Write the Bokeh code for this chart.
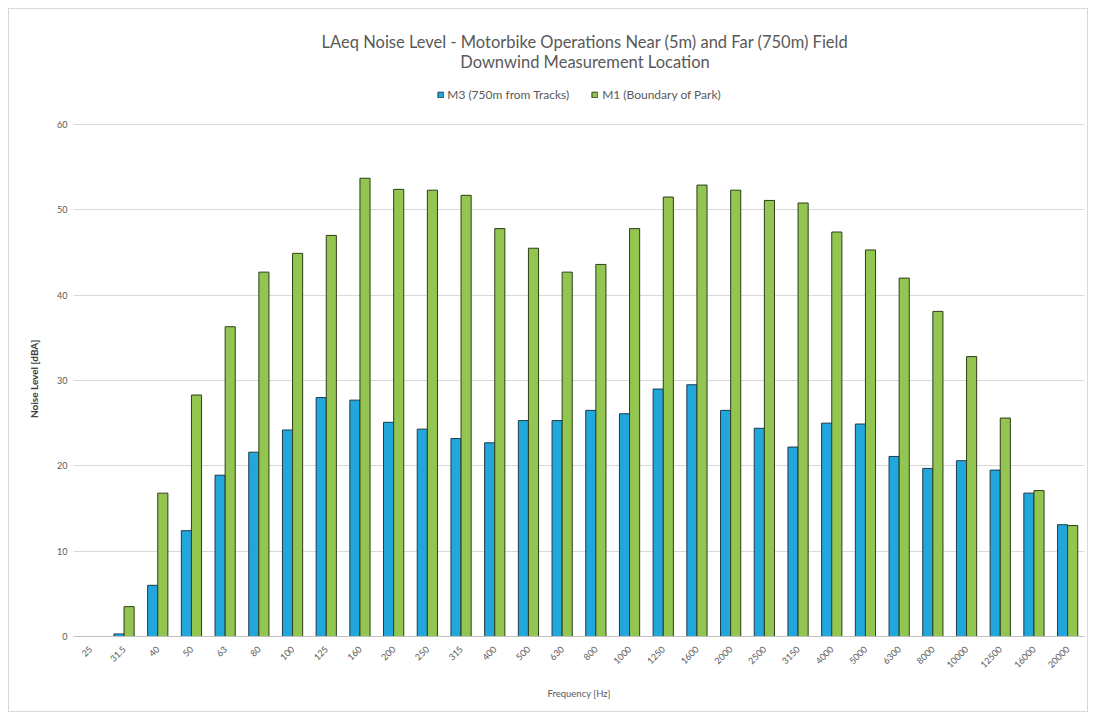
import math
from bokeh.plotting import figure
from bokeh.models import FactorRange, Legend, LegendItem, Label, ColumnDataSource, Range1d
from bokeh.transform import dodge
from bokeh.embed import file_html
from bokeh.resources import INLINE

freqs = ["25", "31.5", "40", "50", "63", "80", "100", "125", "160", "200", "250", "315",
         "400", "500", "630", "800", "1000", "1250", "1600", "2000", "2500", "3150",
         "4000", "5000", "6300", "8000", "10000", "12500", "16000", "20000"]
m3_far = [0.0, 0.3, 6.0, 12.4, 18.9, 21.6, 24.2, 28.0, 27.7, 25.1, 24.3, 23.2,
          22.7, 25.3, 25.3, 26.5, 26.1, 29.0, 29.5, 26.5, 24.4, 22.2,
          25.0, 24.9, 21.1, 19.7, 20.6, 19.5, 16.8, 13.1]
m1_near = [0.0, 3.5, 16.8, 28.3, 36.3, 42.7, 44.9, 47.0, 53.7, 52.4, 52.3, 51.7,
           47.8, 45.5, 42.7, 43.6, 47.8, 51.5, 52.9, 52.3, 51.1, 50.8,
           47.4, 45.3, 42.0, 38.1, 32.8, 25.6, 17.1, 13.0]
series_names = ["M3 (750m from Tracks)", "M1 (Boundary of Park)"]
y_ticks = [0, 10, 20, 30, 40, 50, 60]
title_lines = ["LAeq Noise Level - Motorbike Operations Near (5m) and Far (750m) Field",
               "Downwind Measurement Location"]
y_title = "Noise Level [dBA]"
x_title = "Frequency [Hz]"

src = ColumnDataSource(dict(f=freqs, a=m3_far, b=m1_near))

FONT = "Lato"
GRAY = "#595959"

W, H = 1080, 704
BL, BR, BB = 64, 5, 77
FW, FH = W - BL - BR, H - BB
PLOT_H = 512  # pixel height of the 0..60 band
YMAX = 60 * FH / PLOT_H

p = figure(x_range=FactorRange(*freqs), y_range=Range1d(0, YMAX), title=None,
           width=W, height=H, output_backend="svg", toolbar_location=None,
           min_border_left=BL, min_border_right=BR, min_border_top=0, min_border_bottom=BB)
p.styles = {"margin": "8px 0 0 8px", "border": "1px solid #d9d9d9"}

r1 = p.vbar(x=dodge("f", -0.15, range=p.x_range), top="a", width=0.3, source=src,
            fill_color="#22a7dd", line_color="#1d3a4a", line_width=1)
r2 = p.vbar(x=dodge("f", 0.15, range=p.x_range), top="b", width=0.3, source=src,
            fill_color="#92c650", line_color="#2e3d1a", line_width=1)

p.x_range.range_padding = 0
p.x_range.group_padding = 0
p.outline_line_color = None
p.xgrid.grid_line_color = None
p.ygrid.grid_line_color = "#d9d9d9"
p.ygrid.ticker = y_ticks
p.yaxis.ticker = y_ticks
p.yaxis.bounds = (0, 60)
p.yaxis.axis_line_color = None
p.yaxis.major_tick_line_color = None
p.yaxis.minor_tick_line_color = None
p.yaxis.major_tick_out = 0
p.yaxis.minor_tick_out = 0
p.yaxis.major_label_standoff = 6
p.yaxis.major_label_text_font = FONT
p.yaxis.major_label_text_font_size = "9px"
p.yaxis.major_label_text_color = GRAY
# trailing non-breaking spaces shift the visible label down to the centre of the 0-60 band
p.yaxis.axis_label = y_title + "\u00a0" * 46
p.yaxis.axis_label_text_font = FONT
p.yaxis.axis_label_text_font_size = "10px"
p.yaxis.axis_label_text_font_style = "bold"
p.yaxis.axis_label_text_color = "#404040"
p.yaxis.axis_label_standoff = 14

p.xaxis.axis_line_color = "#bfbfbf"
p.xaxis.major_tick_line_color = None
p.xaxis.minor_tick_line_color = None
p.xaxis.major_label_orientation = math.pi / 4
p.xaxis.major_label_text_font = FONT
p.xaxis.major_label_text_font_size = "9px"
p.xaxis.major_label_text_color = GRAY
p.xaxis.axis_label = x_title
p.xaxis.axis_label_text_font = FONT
p.xaxis.axis_label_text_font_size = "9.5px"
p.xaxis.axis_label_text_font_style = "normal"
p.xaxis.axis_label_text_color = GRAY
p.xaxis.axis_label_standoff = 14

legend = Legend(items=[LegendItem(label=series_names[0], renderers=[r1]),
                       LegendItem(label=series_names[1], renderers=[r2])],
                orientation="horizontal", location="top_center",
                label_text_font=FONT, label_text_font_size="12px", label_text_color=GRAY,
                glyph_height=7, glyph_width=7, spacing=22, label_standoff=4,
                border_line_color=None, background_fill_alpha=0, padding=2, margin=78)
p.add_layout(legend, "center")

for i, txt in enumerate(title_lines):
    p.add_layout(Label(x=FW / 2 + 6, y=FH - 32 - 20 * i, x_units="screen", y_units="screen",
                       text=txt, text_align="center", text_baseline="middle",
                       text_font=FONT, text_font_size="16.5px", text_color=GRAY))

open("out.html", "w").write(file_html(p, INLINE))
